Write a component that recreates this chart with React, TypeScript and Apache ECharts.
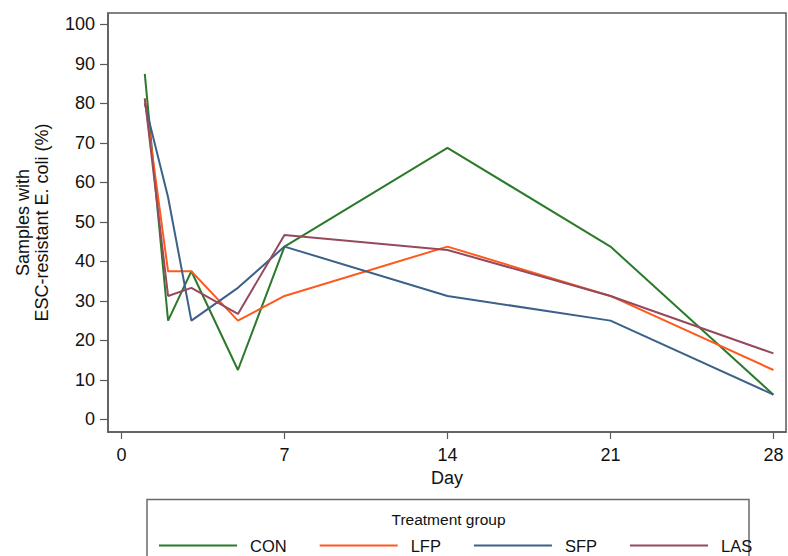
import React, { useEffect, useRef } from "react";
import * as echarts from "echarts";

const days = [1, 2, 3, 5, 7, 14, 21, 28];
const seriesNames = ["CON", "LFP", "SFP", "LAS"];
const conValues = [87.5, 25, 37.5, 12.5, 43.75, 68.75, 43.75, 6.25];
const lfpValues = [81.25, 37.5, 37.5, 25, 31.25, 43.75, 31.25, 12.5];
const sfpValues = [80, 56.25, 25, 33.3, 43.75, 31.25, 25, 6.25];
const lasValues = [81.25, 31.25, 33.3, 26.7, 46.7, 42.9, 31.25, 16.7];
const seriesColors = ["#2b7a2b", "#ff5a1e", "#3c6189", "#954a5c"];
const xTicks = [0, 7, 14, 21, 28];
const yTicks = [0, 10, 20, 30, 40, 50, 60, 70, 80, 90, 100];

const FONT = "'Liberation Sans', Arial, sans-serif";

export default function App() {
  const ref = useRef<HTMLDivElement>(null);
  useEffect(() => {
    if (!ref.current) return;
    const chart = echarts.init(ref.current, null, { renderer: "svg" });
    const allValues = [conValues, lfpValues, sfpValues, lasValues];
    const axisColor = "#5a5a5a";
    chart.setOption({
      animation: false,
      textStyle: { fontFamily: FONT },
      grid: {
        left: 108,
        right: 2,
        top: 13,
        bottom: 124,
        show: true,
        borderColor: axisColor,
        borderWidth: 1.5,
        backgroundColor: "#fff",
      },
      xAxis: {
        type: "value",
        min: -0.58,
        max: 28.54,
        name: "Day",
        nameLocation: "middle",
        nameGap: 37,
        nameMoveOverlap: false,
        nameTextStyle: { fontSize: 18, color: "#111", fontFamily: FONT },
        axisLine: { show: true, onZero: false, lineStyle: { color: axisColor, width: 1.5 } },
        axisTick: { show: true, length: 7, customValues: xTicks, lineStyle: { color: axisColor, width: 1.2 } },
        axisLabel: { customValues: xTicks, fontSize: 18, color: "#111", margin: 14, fontFamily: FONT },
        splitLine: { show: false },
      },
      yAxis: {
        type: "value",
        min: -3.2,
        max: 102.9,
        name: "Samples with\nESC-resistant E. coli (%)",
        nameLocation: "middle",
        nameGap: 57,
        nameMoveOverlap: false,
        nameTextStyle: { fontSize: 18, color: "#111", lineHeight: 19, align: "center", fontFamily: FONT },
        axisLine: { show: true, onZero: false, lineStyle: { color: axisColor, width: 1.5 } },
        axisTick: { show: true, length: 8, customValues: yTicks, lineStyle: { color: axisColor, width: 1.2 } },
        axisLabel: { customValues: yTicks, fontSize: 18, color: "#111", margin: 13, fontFamily: FONT },
        splitLine: { show: false },
      },
      legend: {
        left: 154,
        top: 532,
        itemWidth: 78,
        itemHeight: 2,
        itemGap: 33,
        icon: "rect",
        data: seriesNames,
        textStyle: { fontSize: 16.5, color: "#111", padding: [0, 0, 0, 8], fontFamily: FONT },
      },
      graphic: [
        {
          type: "rect",
          shape: { x: 147, y: 499.5, width: 602, height: 90 },
          style: { fill: "none", stroke: "#6a6a6a", lineWidth: 1.5 },
          silent: true,
        },
        {
          type: "text",
          x: 448.5,
          y: 519,
          style: {
            text: "Treatment group",
            fontSize: 15.5,
            fill: "#111",
            align: "center",
            verticalAlign: "middle",
            fontFamily: FONT,
          },
        },
      ],
      series: seriesNames.map((name, i) => ({
        name,
        type: "line",
        symbol: "none",
        data: days.map((d, j) => [d, allValues[i][j]]),
        lineStyle: { color: seriesColors[i], width: 2 },
        itemStyle: { color: seriesColors[i] },
      })),
    });
    return () => chart.dispose();
  }, []);
  return (
    <div
      ref={ref}
      style={{ position: "fixed", left: 0, top: 0, width: 788, height: 556, background: "#fff" }}
    />
  );
}
